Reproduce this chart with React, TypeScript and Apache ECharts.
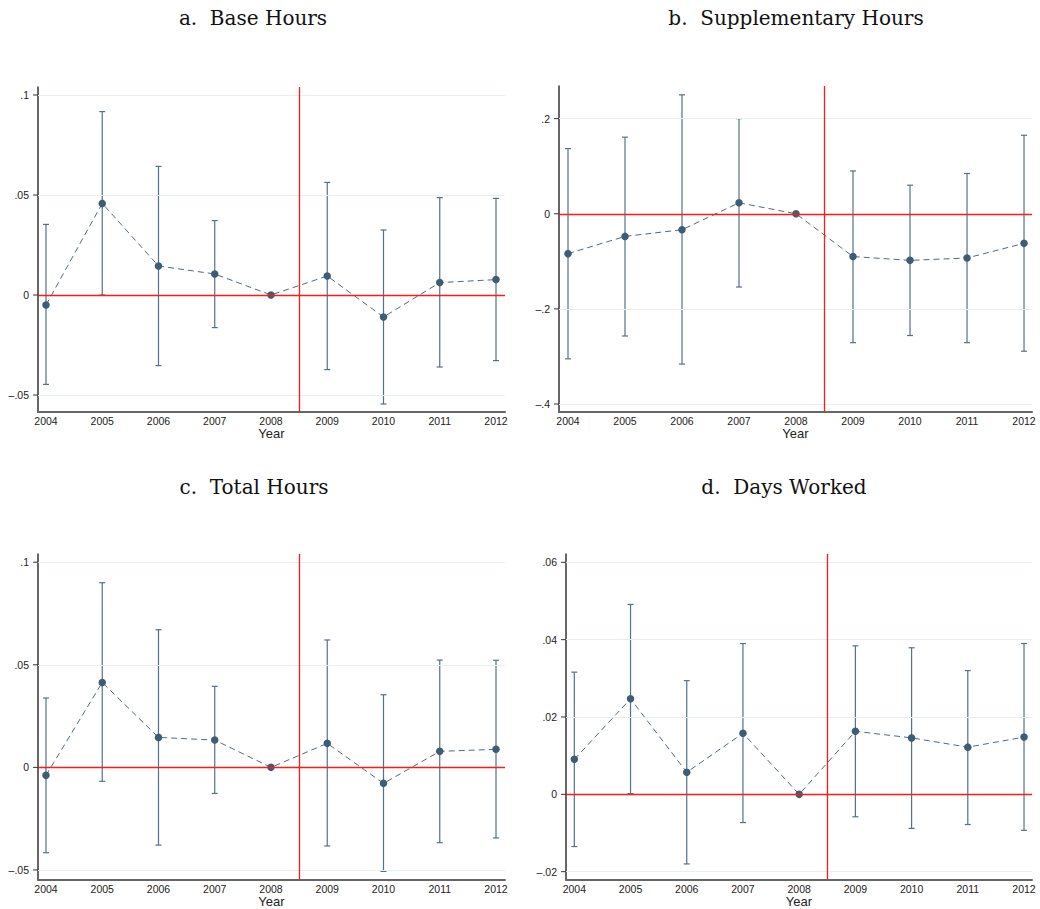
import React, { useEffect, useRef } from "react";
import * as echarts from "echarts";

const years = [2004, 2005, 2006, 2007, 2008, 2009, 2010, 2011, 2012];

// a. Base Hours
const baseCoef = [-0.005, 0.0458, 0.0145, 0.0105, 0, 0.0095, -0.011, 0.0062, 0.0077];
const baseLo = [-0.0447, 0.0, -0.0353, -0.0163, null, -0.0373, -0.0545, -0.036, -0.0328];
const baseHi = [0.0353, 0.0917, 0.0643, 0.0372, null, 0.0563, 0.0325, 0.0487, 0.0483];
const baseTicks = [-0.05, 0, 0.05, 0.1];

// b. Supplementary Hours
const suppCoef = [-0.0839, -0.0476, -0.0336, 0.023, 0, -0.09, -0.098, -0.093, -0.0622];
const suppLo = [-0.305, -0.257, -0.316, -0.154, null, -0.271, -0.256, -0.271, -0.289];
const suppHi = [0.137, 0.161, 0.25, 0.2, null, 0.09, 0.06, 0.0846, 0.165];
const suppTicks = [-0.4, -0.2, 0, 0.2];

// c. Total Hours
const totCoef = [-0.0039, 0.0414, 0.0146, 0.0133, 0, 0.0117, -0.0078, 0.0078, 0.0088];
const totLo = [-0.0416, -0.0068, -0.0379, -0.0127, null, -0.0383, -0.0507, -0.0367, -0.0344];
const totHi = [0.0338, 0.09, 0.0671, 0.0395, null, 0.0621, 0.0354, 0.0523, 0.0522];
const totTicks = [-0.05, 0, 0.05, 0.1];

// d. Days Worked
const daysCoef = [0.00905, 0.0247, 0.0057, 0.0158, 0, 0.0163, 0.0146, 0.0122, 0.0148];
const daysLo = [-0.0135, 0.0002, -0.018, -0.0073, null, -0.0058, -0.0088, -0.0078, -0.0093];
const daysHi = [0.0316, 0.0491, 0.0294, 0.039, null, 0.0384, 0.0379, 0.032, 0.039];
const daysTicks = [-0.02, 0, 0.02, 0.04, 0.06];

const titles = ["a.  Base Hours", "b.  Supplementary Hours", "c.  Total Hours", "d.  Days Worked"];
const eventLine = 2008.5;

const panels = [
  { title: titles[0], coef: baseCoef, lo: baseLo, hi: baseHi, ticks: baseTicks, ymin: -0.0585, ymax: 0.104, xmin: 2003.858, xmax: 2012.16, grid: { left: 38, top: 87, width: 467, height: 325 }, tx: 253, ty: 18 },
  { title: titles[1], coef: suppCoef, lo: suppLo, hi: suppHi, ticks: suppTicks, ymin: -0.4168, ymax: 0.2686, xmin: 2003.842, xmax: 2012.14, grid: { left: 559, top: 86, width: 473, height: 326 }, tx: 796, ty: 18 },
  { title: titles[2], coef: totCoef, lo: totLo, hi: totHi, ticks: totTicks, ymin: -0.0549, ymax: 0.104, xmin: 2003.858, xmax: 2012.16, grid: { left: 38, top: 554, width: 467, height: 326 }, tx: 254, ty: 487 },
  { title: titles[3], coef: daysCoef, lo: daysLo, hi: daysHi, ticks: daysTicks, ymin: -0.02215, ymax: 0.06215, xmin: 2003.852, xmax: 2012.142, grid: { left: 566, top: 554, width: 466, height: 326 }, tx: 784, ty: 487 },
];

const fmt = (v: number) => {
  const r = +v.toFixed(4);
  if (r === 0) return "0";
  let s = String(Math.abs(r));
  if (s.startsWith("0")) s = s.slice(1);
  return (r < 0 ? "\u2013" : "") + s;
};

const POINT = "#3d5c75";
const BAR = "#52728a";
const RED = "#ff1a1a";

export default function App() {
  const ref = useRef<HTMLDivElement>(null);
  useEffect(() => {
    if (!ref.current) return;
    const chart = echarts.init(ref.current, null, { renderer: "svg" });
    const grids: any[] = [];
    const xAxes: any[] = [];
    const yAxes: any[] = [];
    const series: any[] = [];
    const graphics: any[] = [];
    panels.forEach((p, i) => {
      grids.push({ ...p.grid, containLabel: false, outerBoundsMode: "none" });
      xAxes.push({
        type: "value",
        gridIndex: i,
        min: p.xmin,
        max: p.xmax,
        name: "Year",
        nameLocation: "middle",
        nameGap: 14,
        nameTextStyle: { fontFamily: "Liberation Sans", fontSize: 13, color: "#222" },
        axisLine: { show: true, onZero: false, lineStyle: { color: "#666", width: 2 } },
        axisTick: { show: false },
        splitLine: { show: false },
        axisLabel: {
          customValues: years,
          fontFamily: "Liberation Sans",
          fontSize: 10.5,
          color: "#222",
          margin: 3,
          formatter: (v: number) => String(Math.round(v)),
        },
      });
      yAxes.push({
        type: "value",
        gridIndex: i,
        min: p.ymin,
        max: p.ymax,
        axisLine: { show: true, onZero: false, lineStyle: { color: "#333", width: 1.5 } },
        axisTick: { show: false },
        splitLine: { show: false },
        axisLabel: {
          customValues: p.ticks,
          fontFamily: "Liberation Sans",
          fontSize: 10.5,
          color: "#222",
          margin: 9,
          formatter: (v: number) => fmt(v),
        },
      });
      // gridlines
      series.push({
        type: "line",
        xAxisIndex: i,
        yAxisIndex: i,
        data: [],
        silent: true,
        z: 0,
        markLine: {
          silent: true,
          symbol: ["none", "none"],
          label: { show: false },
          lineStyle: { color: "#e6eff1", width: 1, type: "solid" },
          data: p.ticks.map((t) => ({ yAxis: t })),
        },
      });
      // y tick marks (outside the plot, left of the axis)
      series.push({
        type: "custom",
        xAxisIndex: i,
        yAxisIndex: i,
        z: 5,
        silent: true,
        clip: false,
        data: p.ticks.map((t) => [p.xmin, t]),
        encode: { x: 0, y: 1 },
        renderItem: (params: any, api: any) => {
          const c = api.coord([api.value(0), api.value(1)]);
          return {
            type: "line",
            shape: { x1: c[0] - 5, y1: c[1], x2: c[0], y2: c[1] },
            style: { stroke: "#333", lineWidth: 1 },
          };
        },
      });
      // reference lines
      series.push({
        type: "line",
        xAxisIndex: i,
        yAxisIndex: i,
        data: [],
        silent: true,
        z: 1,
        markLine: {
          silent: true,
          symbol: ["none", "none"],
          label: { show: false },
          lineStyle: { color: RED, width: 1.3, type: "solid" },
          data: [{ yAxis: 0 }, { xAxis: eventLine }],
        },
      });
      // error bars
      const ciData = years
        .map((y, k) => (p.lo[k] == null ? null : [y, p.lo[k], p.hi[k]]))
        .filter((d) => d !== null);
      series.push({
        type: "custom",
        xAxisIndex: i,
        yAxisIndex: i,
        z: 2,
        silent: true,
        data: ciData,
        encode: { x: 0, y: [1, 2] },
        renderItem: (params: any, api: any) => {
          const lo = api.coord([api.value(0), api.value(1)]);
          const hi = api.coord([api.value(0), api.value(2)]);
          const w = 3;
          const st = { stroke: BAR, lineWidth: 1.2 };
          return {
            type: "group",
            children: [
              { type: "line", shape: { x1: lo[0], y1: lo[1], x2: hi[0], y2: hi[1] }, style: st },
              { type: "line", shape: { x1: lo[0] - w, y1: lo[1], x2: lo[0] + w, y2: lo[1] }, style: st },
              { type: "line", shape: { x1: hi[0] - w, y1: hi[1], x2: hi[0] + w, y2: hi[1] }, style: st },
            ],
          };
        },
      });
      // coefficients
      series.push({
        type: "line",
        xAxisIndex: i,
        yAxisIndex: i,
        z: 3,
        data: years.map((y, k) => [y, p.coef[k]]),
        symbol: "circle",
        symbolSize: 7.5,
        itemStyle: { color: POINT },
        lineStyle: { color: "#4b6b84", width: 1, type: [6, 4] },
        silent: true,
      });
      graphics.push({
        type: "text",
        x: p.tx,
        y: p.ty,
        style: {
          text: p.title,
          font: '20px "DejaVu Serif"',
          fill: "#111",
          textAlign: "center",
          textVerticalAlign: "middle",
        },
      });
    });
    chart.setOption({
      animation: false,
      backgroundColor: "#fff",
      grid: grids,
      xAxis: xAxes,
      yAxis: yAxes,
      series,
      graphic: graphics,
    });
    return () => chart.dispose();
  }, []);
  return (
    <div
      ref={ref}
      style={{ position: "absolute", left: 0, top: 0, width: 1040, height: 909, background: "#fff" }}
    />
  );
}
